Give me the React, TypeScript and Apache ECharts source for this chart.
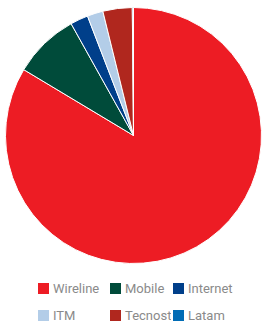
import React, { useEffect, useRef } from "react";
import * as echarts from "echarts";

const categories = ["Wireline", "Mobile", "Internet", "ITM", "Tecnost", "Latam"];
const values = [83.6, 8.3, 2.25, 2.0, 3.7, 0.15];
const colors = ["#ED1C24", "#004B3A", "#003F8A", "#B3CDE8", "#B0271E", "#006CB5"];

const legendColumns = [
  ["Wireline", "ITM"],
  ["Mobile", "Tecnost"],
  ["Internet", "Latam"],
];
const legendLefts = [36, 108, 171];

export default function App() {
  const ref = useRef<HTMLDivElement>(null);
  useEffect(() => {
    document.body.style.margin = "0";
    const chart = echarts.init(ref.current!, undefined, { renderer: "svg" });
    chart.setOption({
      animation: false,
      color: colors,
      legend: legendColumns.map((col, i) => ({
        data: col,
        orient: "vertical",
        left: legendLefts[i],
        top: 281,
        itemWidth: 13,
        itemHeight: 13,
        itemGap: 12,
        icon: "rect",
        selectedMode: false,
        padding: 0,
        textStyle: { color: "#8a8a8a", fontSize: 13, fontFamily: "Roboto", padding: [0, 0, 0, -2] },
      })),
      series: [
        {
          type: "pie",
          center: [133.5, 135.5],
          radius: 128,
          startAngle: 90,
          clockwise: true,
          label: { show: false },
          labelLine: { show: false },
          emphasis: { disabled: true },
          itemStyle: { borderColor: "#ffffff", borderWidth: 1 },
          data: categories.map((name, i) => ({ name, value: values[i] })),
        },
      ],
    });
    return () => chart.dispose();
  }, []);
  return <div ref={ref} style={{ width: 262, height: 325 }} />;
}
